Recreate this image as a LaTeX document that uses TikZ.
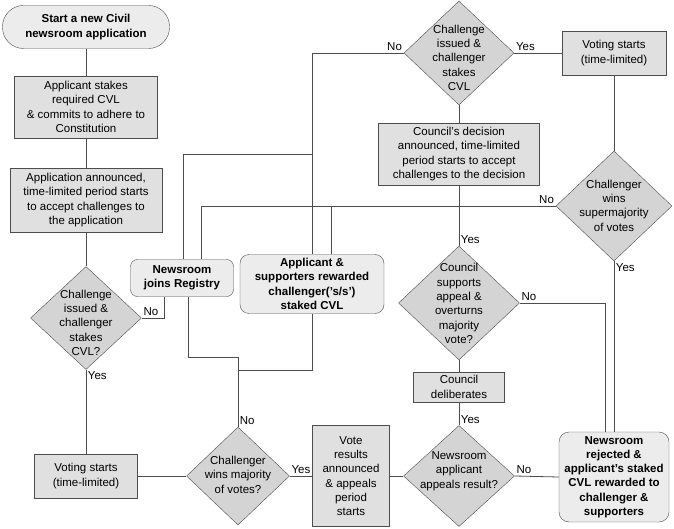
\documentclass[tikz,border=0pt]{standalone}
\usepackage{fontspec}
\setmainfont{Liberation Sans}
\usetikzlibrary{shapes.geometric}

\definecolor{edgegray}{HTML}{4D4D4D}
\definecolor{boxgray}{HTML}{E0E0E0}
\definecolor{diagray}{HTML}{D4D4D4}
\definecolor{softgray}{HTML}{ECECEC}

% text set inside a diamond without growing it
\newcommand{\dtxt}[2][0pt]{\makebox[0pt]{\smash{\raisebox{\dimexpr-0.25em-#1\relax}{\begin{tabular}{@{}c@{}}#2\end{tabular}}}}}

\begin{document}
\begin{tikzpicture}[x=1pt, y=-1pt,
    every node/.style={font=\fontsize{11.5}{14.3}\selectfont},
    box/.style={draw=edgegray, fill=boxgray, align=center, inner sep=0pt},
    roundbox/.style={draw=edgegray, fill=softgray, align=center, inner sep=0pt,
        rounded corners=8pt, font=\fontsize{11.5}{14.3}\selectfont\bfseries},
    term/.style={roundbox, rounded corners=21pt},
    decision/.style={diamond, draw=edgegray, fill=diagray, inner sep=0pt},
    line/.style={draw=edgegray, line width=0.8pt},
    tag/.style={inner sep=1.5pt}]
    \useasboundingbox (0,0) rectangle (674,529);

    % Left column
    \node[term, minimum width=167pt, minimum height=43pt] (start) at (86,27)
        {Start a new Civil\\newsroom application};
    \node[box, minimum width=143pt, minimum height=62pt] (stake) at (86,107)
        {Applicant stakes\\required CVL\\\& commits to adhere to\\Constitution};
    \node[box, minimum width=152pt, minimum height=64pt] (announce) at (86,200)
        {Application announced,\\time-limited period starts\\to accept challenges to\\the application};
    \node[decision, minimum width=111pt, minimum height=103pt] (chal1) at (86,318)
        {\dtxt[6pt]{Challenge\\issued \&\\challenger\\stakes\\CVL?}};
    \node[box, minimum width=103pt, minimum height=44pt] (vote1) at (86,476)
        {Voting starts\\(time-limited)};

    % Bottom row
    \node[decision, minimum width=103pt, minimum height=98pt] (major) at (238,476)
        {\dtxt{Challenger\\wins majority\\of votes?}};
    \node[box, minimum width=77pt, minimum height=101pt] (results) at (351,476)
        {Vote\\results\\announced\\\& appeals\\period\\starts};
    \node[decision, minimum width=111pt, minimum height=101pt] (appeal) at (459,476)
        {\dtxt[-5pt]{Newsroom\\applicant\\appeals result?}};
    \node[roundbox, rounded corners=10pt, minimum width=110pt, minimum height=90pt] (rejected) at (614,477)
        {Newsroom\\rejected \&\\applicant’s staked\\CVL rewarded to\\challenger \&\\supporters};

    % Middle column
    \node[box, minimum width=91pt, minimum height=30pt] (delib) at (459,387)
        {Council\\deliberates};
    \node[decision, minimum width=121pt, minimum height=114pt] (council) at (459,303)
        {\dtxt[2pt]{Council\\supports\\appeal \&\\overturns\\majority\\vote?}};
    \node[box, minimum width=161pt, minimum height=62pt] (decision) at (459,154)
        {Council’s decision\\announced, time-limited\\period starts to accept\\challenges to the decision};
    \node[decision, minimum width=110pt, minimum height=104pt] (chal2) at (459,53)
        {\dtxt[6pt]{Challenge\\issued \&\\challenger\\stakes\\CVL}};

    % Right column
    \node[box, minimum width=104pt, minimum height=44pt] (vote2) at (614,53)
        {Voting starts\\(time-limited)};
    \node[decision, minimum width=116pt, minimum height=110pt] (superm) at (614,206)
        {\dtxt[1pt]{Challenger\\wins\\supermajority\\of votes}};

    % Outcomes
    \node[roundbox, rounded corners=7pt, minimum width=103pt, minimum height=37pt] (joins) at (182,278)
        {Newsroom\\joins Registry};
    \node[roundbox, rounded corners=9pt, minimum width=144pt, minimum height=59pt] (reward) at (312,284)
        {Applicant \&\\supporters rewarded\\challenger(’s/s’)\\staked CVL};

    \coordinate (split) at (312,154);
    \coordinate (m1) at (238,357);
    \coordinate (m2) at (238,370);

    % Connectors
    \draw[line] (start.south) -- (stake.north);
    \draw[line] (stake.south) -- (announce.north);
    \draw[line] (announce.south) -- (chal1.north);
    \draw[line] (chal1.east) node[tag, above right] {No} -| ([xshift=-18pt]joins.south);
    \draw[line] (chal1.south) node[tag, below right] {Yes} -- (vote1.north);
    \draw[line] (vote1.east) -- (major.west);
    \draw[line] (major.east) node[tag, above right] {Yes} -- (results.west);
    \draw[line] (results.east) -- (appeal.west);
    \draw[line] (appeal.east) node[tag, above right] {No} -- (rejected.west);
    \draw[line] (appeal.north) node[tag, above right] {Yes} -- (delib.south);
    \draw[line] (delib.north) -- (council.south);
    \draw[line] (council.east) node[tag, above right] {No} -| ([xshift=-9pt]rejected.north);
    \draw[line] (council.north) node[tag, above right] {Yes} -- (decision.south);
    \draw[line] (decision.north) -- (chal2.south);
    \draw[line] (chal2.east) node[tag, above right] {Yes} -- (vote2.west);
    \draw[line] (vote2.south) -- (superm.north);
    \draw[line] (superm.south) node[tag, below right] {Yes} -- (rejected.north);
    \draw[line] (chal2.west) node[tag, above left] {No} -| (reward.north);
    \draw[line] (split) -| ([xshift=1pt]joins.north);
    \draw[line] (superm.west) node[tag, above left] {No} -| ([xshift=19pt]joins.north);
    \draw[line] ([xshift=19pt]reward.north |- superm.west) -- ([xshift=19pt]reward.north);
    \draw[line] (major.north) node[tag, above right] {No} -- (m1) -| ([xshift=6pt]joins.south);
    \draw[line] (m1) -- (m2) -| (reward.south);
\end{tikzpicture}
\end{document}
